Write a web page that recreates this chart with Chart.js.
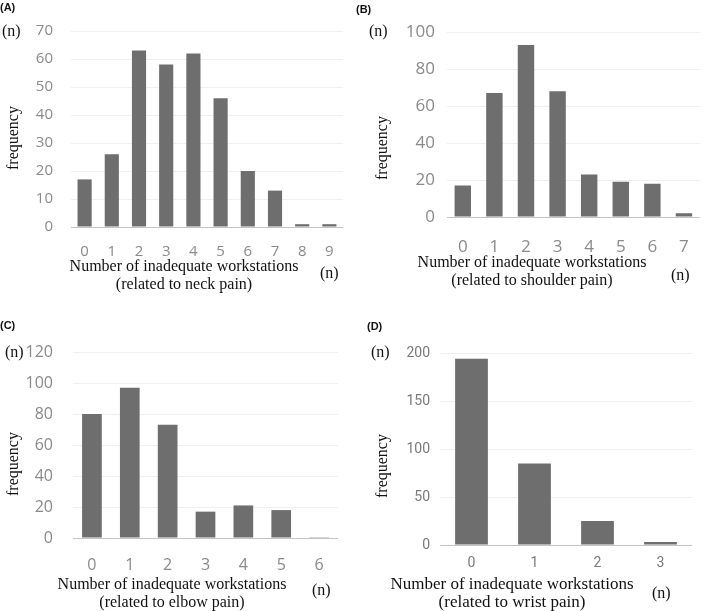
<!DOCTYPE html>
<html>
<head>
<meta charset="utf-8">
<script src="https://cdn.jsdelivr.net/npm/chart.js@4/dist/chart.umd.min.js"></script>
<style>
  html, body { margin: 0; padding: 0; background: #fff; }
  #wrap { position: relative; width: 709px; height: 611px; overflow: hidden; background: #fff; }
  canvas { position: absolute; }
  .t { position: absolute; white-space: nowrap; color: #111; font-family: "Liberation Serif", "Times New Roman", serif; }
  .letter { position: absolute; font-family: "Liberation Sans", Arial, sans-serif; font-weight: bold; font-size: 11px; color: #111; }
  .xt { position: absolute; text-align: center; font-family: "Liberation Serif", serif; font-size: 16px; line-height: 18px; color: #111; white-space: nowrap; transform: translateX(-50%); }
  .yt { position: absolute; font-family: "Liberation Serif", serif; font-size: 16px; color: #111; white-space: nowrap; transform: translate(-50%, -50%) rotate(-90deg); }
</style>
</head>
<body>
<div id="wrap">
  <canvas id="cA" width="354" height="300" style="left:0;top:0;width:354px;height:300px"></canvas>
  <canvas id="cB" width="355" height="300" style="left:354px;top:0;width:355px;height:300px"></canvas>
  <canvas id="cC" width="354" height="311" style="left:0;top:300px;width:354px;height:311px"></canvas>
  <canvas id="cD" width="355" height="311" style="left:354px;top:300px;width:355px;height:311px"></canvas>

  <div class="letter" style="left:0px;top:1px">(A)</div>
  <div class="letter" style="left:356px;top:3px">(B)</div>
  <div class="letter" style="left:0px;top:319px">(C)</div>
  <div class="letter" style="left:367px;top:320px">(D)</div>

  <div class="t" style="left:2px;top:22px;font-size:16px">(n)</div>
  <div class="t" style="left:369px;top:22px;font-size:16px">(n)</div>
  <div class="t" style="left:5px;top:343px;font-size:16px">(n)</div>
  <div class="t" style="left:371px;top:343px;font-size:16px">(n)</div>

  <div class="yt" style="left:13px;top:138px">frequency</div>
  <div class="yt" style="left:382px;top:148px">frequency</div>
  <div class="yt" style="left:13px;top:464px">frequency</div>
  <div class="yt" style="left:382px;top:466px">frequency</div>

  <div class="xt" style="left:184px;top:257px">Number of inadequate workstations<br>(related to neck pain)</div>
  <div class="xt" style="left:532px;top:253px">Number of inadequate workstations<br>(related to shoulder pain)</div>
  <div class="xt" style="left:172px;top:575px">Number of inadequate workstations<br>(related to elbow pain)</div>
  <div class="xt" style="left:512px;top:575px;font-size:17px">Number of inadequate workstations<br>(related to wrist pain)</div>

  <div class="t" style="left:320px;top:264px;font-size:16px">(n)</div>
  <div class="t" style="left:671px;top:266px;font-size:16px">(n)</div>
  <div class="t" style="left:312px;top:581px;font-size:16px">(n)</div>
  <div class="t" style="left:652px;top:584px;font-size:16px">(n)</div>
</div>
<script>
// ---- data ----
const catsA = ['0','1','2','3','4','5','6','7','8','9'];
const valsA = [17, 26, 63, 58, 62, 46, 20, 13, 1, 1];
const catsB = ['0','1','2','3','4','5','6','7'];
const valsB = [17, 67, 93, 68, 23, 19, 18, 2];
const catsC = ['0','1','2','3','4','5','6'];
const valsC = [80, 97, 73, 17, 21, 18, 0.5];
const catsD = ['0','1','2','3'];
const valsD = [194, 85, 25, 3];
const yMaxA = 70, yStepA = 10;
const yMaxB = 100, yStepB = 20;
const yMaxC = 120, yStepC = 20;
const yMaxD = 200, yStepD = 50;

const BAR = '#6e6e6e';

function makeChart(id, cats, vals, yMax, yStep, area, fontFamily, ySize, xSize, yPad, xPad, tickColor) {
  const cv = document.getElementById(id);
  const W = cv.width, H = cv.height;
  return new Chart(cv, {
    type: 'bar',
    data: { labels: cats, datasets: [{ data: vals, backgroundColor: BAR, borderWidth: 0,
      barPercentage: 0.52, categoryPercentage: 1.0 }] },
    options: {
      responsive: false, animation: false, devicePixelRatio: 1,
      plugins: { legend: { display: false }, tooltip: { enabled: false } },
      layout: { padding: { left: 0, top: area.top, right: W - area.right, bottom: 0 } },
      scales: {
        x: {
          offset: true,
          grid: { display: false, drawTicks: false },
          border: { display: false },
          ticks: { color: tickColor, font: { family: fontFamily, size: xSize }, padding: xPad, maxRotation: 0, autoSkip: false },
          afterFit: (s) => { s.height = H - area.bottom; }
        },
        y: {
          min: 0, max: yMax,
          grid: { drawTicks: false, lineWidth: 1,
            color: (ctx) => (ctx.tick && ctx.tick.value === 0) ? '#c4c4c4' : '#efefef' },
          border: { display: false },
          ticks: { stepSize: yStep, color: tickColor, font: { family: fontFamily, size: ySize }, padding: yPad },
          afterFit: (s) => { s.width = area.left; }
        }
      }
    }
  });
}

makeChart('cA', catsA, valsA, yMaxA, yStepA, {left:71, right:343, top:31, bottom:227}, '"Open Sans", sans-serif', 15, 15, 18, 16, '#8a8a8a');
makeChart('cB', catsB, valsB, yMaxB, yStepB, {left:93, right:352, top:32, bottom:217}, '"Open Sans", sans-serif', 17, 17, 12, 20, '#8a8a8a');
makeChart('cC', catsC, valsC, yMaxC, yStepC, {left:73, right:338, top:52, bottom:238}, '"Open Sans", sans-serif', 16, 16, 20, 18, '#8a8a8a');
makeChart('cD', catsD, valsD, yMaxD, yStepD, {left:86, right:338, top:53, bottom:245}, 'Roboto, sans-serif', 14, 14, 10, 10, '#7a7a7a');
</script>
</body>
</html>
